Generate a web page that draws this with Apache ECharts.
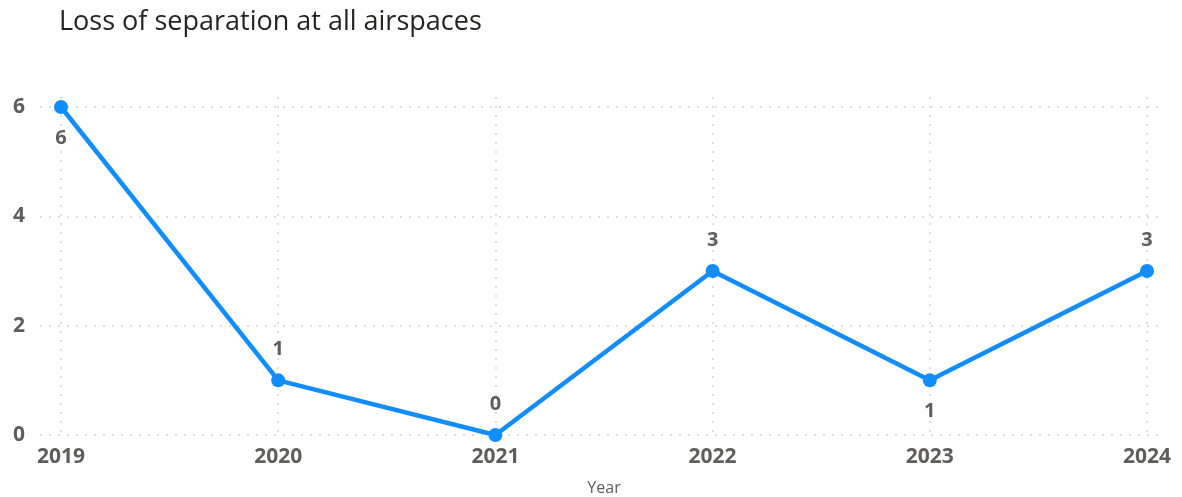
<!DOCTYPE html>
<html>
<head>
<meta charset="utf-8">
<script src="https://cdn.jsdelivr.net/npm/echarts@6/dist/echarts.min.js"></script>
<style>html,body{margin:0;padding:0;background:#fff}#c{width:1182px;height:497px}</style>
</head>
<body>
<div id="c"></div>
<script>
const years = ['2019', '2020', '2021', '2022', '2023', '2024'];
const losses = [6, 1, 0, 3, 1, 3];
const yTicks = [0, 2, 4, 6];
const labelSide = ['bottom', 'top', 'top', 'top', 'bottom', 'top'];

const FONT = '"Open Sans", "Noto Sans", sans-serif';
const gridLine = { show: true, lineStyle: { color: '#d2d2d2', width: 1.5, type: [2, 7] } };

const chart = echarts.init(document.getElementById('c'));
chart.setOption({
  animation: false,
  title: {
    text: 'Loss of separation at all airspaces',
    left: 54, top: 4,
    textStyle: { fontFamily: FONT, fontWeight: 'normal', fontSize: 27, color: '#252423' }
  },
  grid: [
    { left: 61, right: 35, top: 107, bottom: 62, containLabel: false, outerBoundsMode: 'none' },   // data
    { left: 40, right: 17, top: 107, bottom: 62, containLabel: false, outerBoundsMode: 'none' },   // horizontal grid lines + y labels
    { left: 61, right: 35, top: 97, bottom: 62, containLabel: false, outerBoundsMode: 'none' }     // vertical grid lines
  ],
  xAxis: [
    {
      gridIndex: 0, type: 'category', data: years, boundaryGap: false,
      axisLine: { show: false }, axisTick: { show: false }, splitLine: { show: false },
      axisLabel: { margin: 12, fontFamily: FONT, fontSize: 21, fontWeight: 'bold', color: '#605E5C' },
      name: 'Year', nameLocation: 'middle', nameGap: 45, nameMoveOverlap: false,
      nameTextStyle: { fontFamily: FONT, fontSize: 16, color: '#605E5C' }
    },
    { gridIndex: 1, type: 'value', min: 0, max: 1, show: false },
    {
      gridIndex: 2, type: 'category', data: years, boundaryGap: false,
      axisLine: { show: false }, axisTick: { show: false }, axisLabel: { show: false },
      splitLine: gridLine
    }
  ],
  yAxis: [
    { gridIndex: 0, type: 'value', min: yTicks[0], max: yTicks[yTicks.length - 1], interval: 2, show: false },
    {
      gridIndex: 1, type: 'value', min: yTicks[0], max: yTicks[yTicks.length - 1], interval: 2,
      axisLine: { show: false }, axisTick: { show: false },
      axisLabel: { margin: 15, fontFamily: FONT, fontSize: 21, fontWeight: 'bold', color: '#605E5C' },
      splitLine: gridLine
    },
    { gridIndex: 2, type: 'value', min: 0, max: 1, show: false }
  ],
  series: [{
    type: 'line',
    xAxisIndex: 0, yAxisIndex: 0,
    data: losses.map((v, i) => ({ value: v, label: { position: labelSide[i] } })),
    symbol: 'circle', symbolSize: 14,
    lineStyle: { color: '#118DFF', width: 4.5 },
    itemStyle: { color: '#118DFF' },
    label: {
      show: true, distance: 14, fontFamily: FONT, fontSize: 20, fontWeight: 'bold', color: '#605E5C'
    }
  }]
});
</script>
</body>
</html>
